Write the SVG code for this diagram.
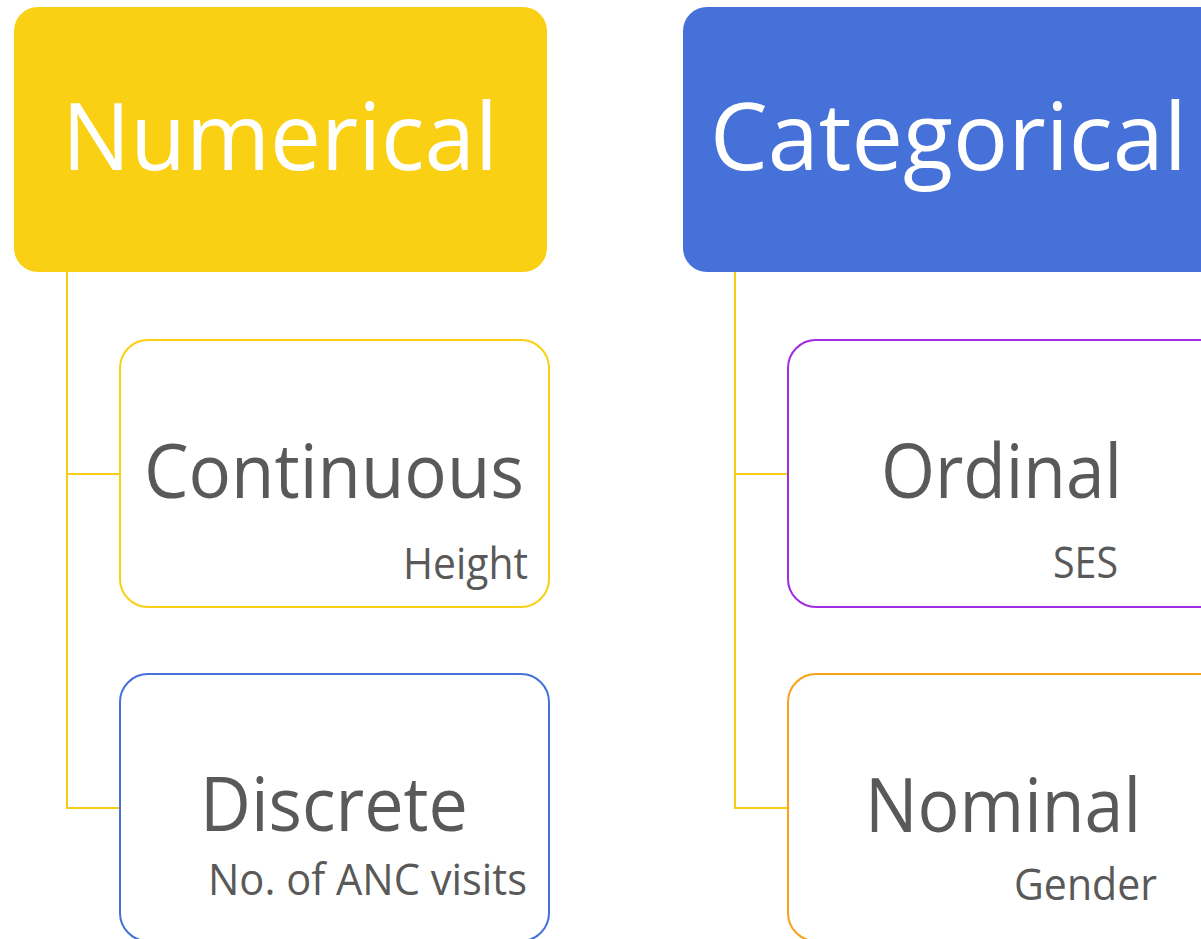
<svg xmlns="http://www.w3.org/2000/svg" width="1201" height="939" viewBox="0 0 1201 939">
<style>
.hdr{font-family:"Open Sans","Noto Sans",sans-serif;fill:#ffffff;font-size:94px}
.ttl{font-family:"Open Sans","Noto Sans",sans-serif;fill:#595959;font-size:75px}
.sub{font-family:"Open Sans","Noto Sans",sans-serif;fill:#595959;font-size:43px}
.child{fill:#ffffff;stroke-width:2}
.conn{fill:none;stroke:#F9CC14;stroke-width:2}
</style>
<rect width="1201" height="939" fill="#ffffff"/>
<g id="connectors">
<path class="conn" d="M67 272 V808 H120 M67 474 H120"/>
<path class="conn" d="M735 272 V808 H788 M735 474 H788"/>
</g>
<g id="numerical">
<rect x="14" y="7" width="533" height="265" rx="24" fill="#FAD014"/>
<text class="hdr" x="62" y="170" textLength="436" lengthAdjust="spacingAndGlyphs">Numerical</text>
</g>
<g id="categorical">
<rect x="683" y="7" width="540" height="265" rx="24" fill="#4571D8"/>
<text class="hdr" x="710" y="170" textLength="477" lengthAdjust="spacingAndGlyphs">Categorical</text>
</g>
<g id="continuous">
<rect class="child" x="120" y="340" width="429" height="267" rx="28" stroke="#FAD014"/>
<text class="ttl" x="144" y="498" textLength="380" lengthAdjust="spacingAndGlyphs">Continuous</text>
<text class="sub" x="403" y="579" textLength="125" lengthAdjust="spacingAndGlyphs">Height</text>
</g>
<g id="discrete">
<rect class="child" x="120" y="674" width="429" height="267" rx="28" stroke="#4571D8"/>
<text class="ttl" x="200" y="831" font-size="72" textLength="268" lengthAdjust="spacingAndGlyphs">Discrete</text>
<text class="sub" x="208" y="895" font-size="40" textLength="319" lengthAdjust="spacingAndGlyphs">No. of ANC visits</text>
</g>
<g id="ordinal">
<rect class="child" x="788" y="340" width="440" height="267" rx="28" stroke="#A02BE0"/>
<text class="ttl" x="881" y="498" textLength="241" lengthAdjust="spacingAndGlyphs">Ordinal</text>
<text class="sub" x="1053" y="578" textLength="65" lengthAdjust="spacingAndGlyphs">SES</text>
</g>
<g id="nominal">
<rect class="child" x="788" y="674" width="440" height="267" rx="28" stroke="#F9A11B"/>
<text class="ttl" x="865" y="832" textLength="276" lengthAdjust="spacingAndGlyphs">Nominal</text>
<text class="sub" x="1014" y="900" textLength="143" lengthAdjust="spacingAndGlyphs">Gender</text>
</g>
</svg>
